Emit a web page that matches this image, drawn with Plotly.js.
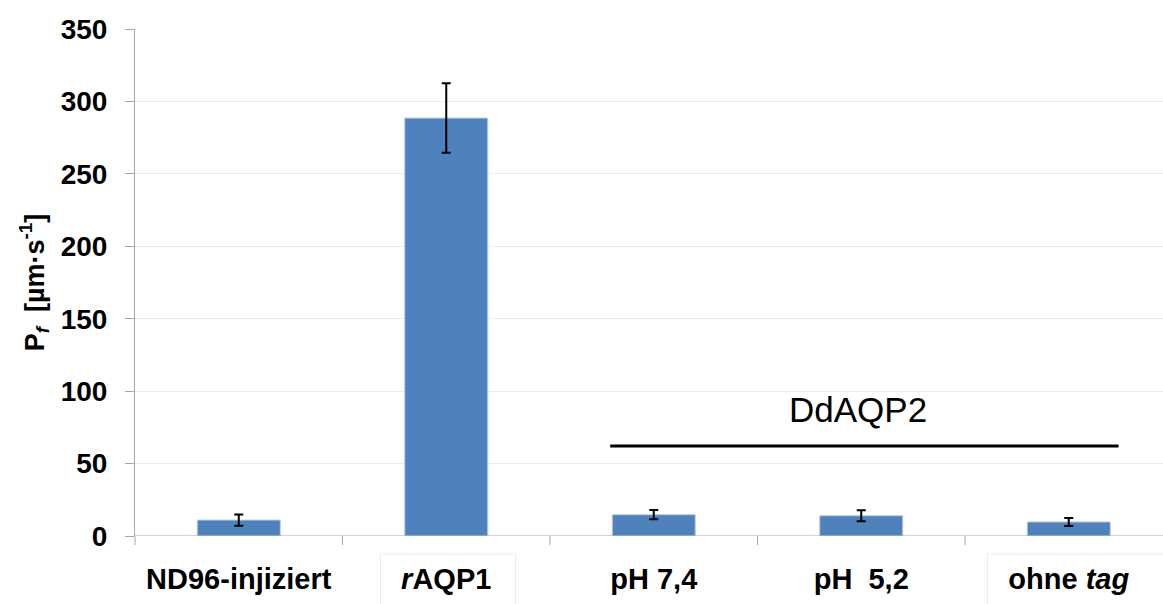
<!DOCTYPE html>
<html>
<head>
<meta charset="utf-8">
<script src="https://cdn.plot.ly/plotly-3.0.1.min.js"></script>
<style>html,body{margin:0;padding:0;background:#fff;}#chart{width:1163px;height:604px;}</style>
</head>
<body>
<div id="chart"></div>
<script>
// ---- data ----
const categories = ["ND96-injiziert", "<i>r</i>AQP1", "pH 7,4", "pH\u00a0 5,2", "ohne <i>tag</i>"];
const pfValues = [11.0, 288.5, 14.7, 14.0, 9.7];
const pfErrors = [3.9, 24.0, 3.2, 3.8, 2.8];
const yTickVals = [0, 50, 100, 150, 200, 250, 300, 350];
const groupLabel = "DdAQP2";
const groupStart = 1.79;   // category-axis position where bracket starts
const groupEnd = 4.24;     // category-axis position where bracket ends
const groupLineY = 62.2;
const groupTextY = 87.5;
const boxedLabels = [1, 4]; // indices of labels that carry a faint frame

// ---- layout helpers ----
const W = 1163, H = 604;
const mL = 135, mR = 0, mT = 29, mB = 68;
const catPx = 207.5;
const plotW = W - mL - mR;
const xRange = [-0.5, -0.5 + plotW / catPx];
const xIdx = categories.map((c, i) => i);
function toPaperX(v) { return (v - xRange[0]) / (xRange[1] - xRange[0]); }

const boxShapes = boxedLabels.map(i => ({
  type: 'rect', xref: 'paper', yref: 'paper',
  x0: toPaperX(i - (i === 1 ? 0.317 : 0.392)),
  x1: toPaperX(i + (i === 1 ? 0.334 : 0.8)),
  y0: -0.0355, y1: -0.2,
  line: {color: '#ececec', width: 1}, fillcolor: 'rgba(0,0,0,0)', layer: 'below'
}));

const trace = {
  type: 'bar',
  x: xIdx,
  y: pfValues,
  width: 0.4,
  marker: {color: '#4f81bd', line: {color: '#b9cde5', width: 1}},
  error_y: {type: 'data', array: pfErrors, visible: true, color: '#000', thickness: 2, width: 4.5},
  hoverinfo: 'skip'
};

const font = {family: '"Liberation Sans", Arial, sans-serif', color: '#000'};

const layout = {
  width: W, height: H,
  margin: {l: mL, r: mR, t: mT, b: mB, pad: 0},
  paper_bgcolor: '#fff', plot_bgcolor: '#fff',
  showlegend: false,
  bargap: 0.6,
  xaxis: {
    type: 'linear',
    range: xRange,
    tickmode: 'array',
    tickvals: xIdx,
    ticktext: categories,
    ticks: '',
    showgrid: false,
    zeroline: false,
    showline: false,
    tickfont: Object.assign({}, font, {size: 29, weight: 'bold'}),
    ticklabelstandoff: 23,
    fixedrange: true
  },
  yaxis: {
    range: [0, 350],
    tickmode: 'array',
    tickvals: yTickVals,
    ticks: 'outside',
    ticklen: 9,
    tickcolor: '#a6a6a6',
    tickwidth: 1,
    showline: true,
    linecolor: '#a6a6a6',
    linewidth: 1,
    showgrid: true,
    gridcolor: '#ececec',
    gridwidth: 1,
    zeroline: false,
    tickfont: Object.assign({}, font, {size: 28, weight: 'bold'}),
    ticklabelstandoff: 12,
    title: {text: 'P<sub><i>f</i></sub>  [µm·s<sup>-1</sup>]', font: Object.assign({}, font, {size: 27, weight: 'bold'}), standoff: 8},
    fixedrange: true
  },
  shapes: [
    // bottom axis line
    {type: 'line', xref: 'paper', yref: 'y', x0: 0, x1: 1, y0: 0, y1: 0, line: {color: '#a6a6a6', width: 1}},
    // category boundary ticks
    ...xIdx.map(i => ({type: 'line', xref: 'paper', yref: 'paper', x0: toPaperX(i - 0.5), x1: toPaperX(i - 0.5), y0: 0, y1: -0.018, line: {color: '#a6a6a6', width: 1}})),
    // group bracket
    {type: 'line', xref: 'x', yref: 'y', x0: groupStart, x1: groupEnd, y0: groupLineY, y1: groupLineY, line: {color: '#000', width: 3}},
    ...boxShapes
  ],
  annotations: [
    {x: (groupStart + groupEnd) / 2 - 0.03, y: groupTextY, xref: 'x', yref: 'y', text: groupLabel, showarrow: false,
     font: Object.assign({}, font, {size: 35}), xanchor: 'center', yanchor: 'middle'}
  ]
};

Plotly.newPlot('chart', [trace], layout, {displayModeBar: false, staticPlot: true});
</script>
</body>
</html>
